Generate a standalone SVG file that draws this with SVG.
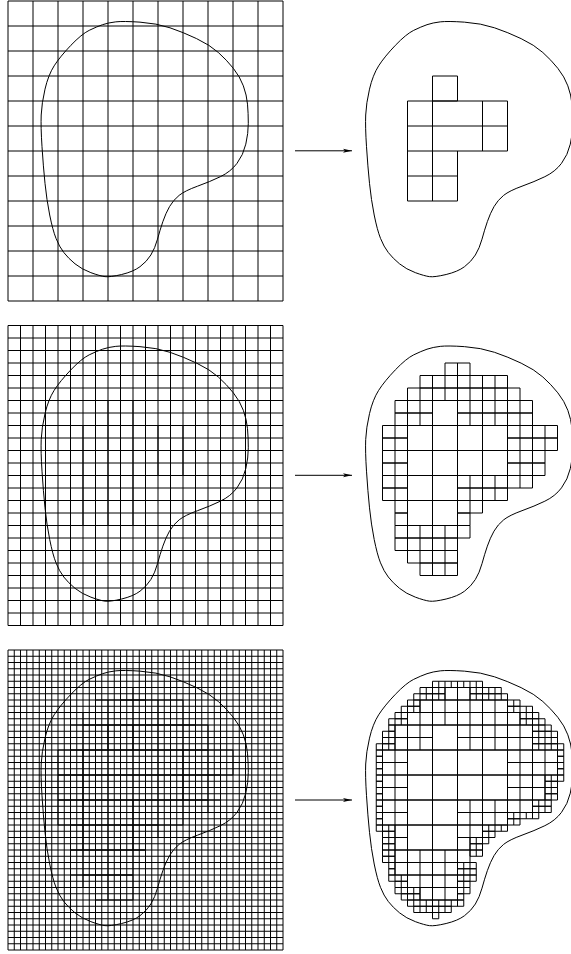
<svg xmlns="http://www.w3.org/2000/svg" width="571" height="954" viewBox="0 0 571 954">
<style>
svg{background:#fff}
path,use,line{fill:none;stroke:#000;stroke-width:1}
.u{vector-effect:non-scaling-stroke}
.b{stroke-width:1}
.a{stroke-width:1;marker-end:url(#ah)}
#ah path{fill:#000;stroke:none}
</style>
<defs>
<marker id="ah" markerUnits="userSpaceOnUse" markerWidth="10" markerHeight="6" refX="9" refY="3" orient="auto" viewBox="0 0 10 6"><path d="M0 1L9 3L0 5L2 3z"/></marker>
<path id="blob" d="M115.8 21.85Q123.3 21 140 22.15Q156.7 23.3 170 27.8Q183.3 32.3 196.65 38.65Q210 45 218.35 52.5Q226.7 60 233.35 68.35Q240 76.7 243.35 85.85Q246.7 95 247.5 104.15Q248.3 113.3 248.3 123.3Q248.3 133.3 245.8 144.15Q243.3 155 237 163.35Q230.7 171.7 220.35 176.7Q210 181.7 197.5 186.2Q185 190.7 179.15 195.35Q173.3 200 169.5 206.65Q165.7 213.3 162.85 221.65Q160 230 157.5 239.15Q155 248.3 150.85 255Q146.7 261.7 140 266.7Q133.3 271.7 121.65 274.5Q110 277.3 105 276.65Q100 276 90.85 272.65Q81.7 269.3 75 263.8Q68.3 258.3 63.8 252.5Q59.3 246.7 56 238.35Q52.7 230 49.7 215Q46.7 200 45 183.35Q43.3 166.7 42 146.7Q40.7 126.7 41.2 115Q41.7 103.3 45 89.15Q48.3 75 54.15 65.85Q60 56.7 70.85 45.35Q81.7 34 89.2 30.35Q96.7 26.7 102.5 24.7Q108.3 22.7 115.8 21.85z"/>
<path id="s1" class="u" d="M0 0h1v1h-1z"/>
<path id="s2" class="u" d="M0 0h2v1h-2zM1 0v1"/>
<path id="s3" class="u" d="M0 0h3v1h-3zM1 0v1M2 0v1"/>
<path id="s4" class="u" d="M0 0h4v1h-4zM1 0v1M2 0v1M3 0v1"/>
<path id="s5" class="u" d="M0 0h5v1h-5zM1 0v1M2 0v1M3 0v1M4 0v1"/>
<path id="s6" class="u" d="M0 0h6v1h-6zM1 0v1M2 0v1M3 0v1M4 0v1M5 0v1"/>
<path id="s7" class="u" d="M0 0h7v1h-7zM1 0v1M2 0v1M3 0v1M4 0v1M5 0v1M6 0v1"/>
<path id="s8" class="u" d="M0 0h8v1h-8zM1 0v1M2 0v1M3 0v1M4 0v1M5 0v1M6 0v1M7 0v1"/>
<path id="s9" class="u" d="M0 0h9v1h-9zM1 0v1M2 0v1M3 0v1M4 0v1M5 0v1M6 0v1M7 0v1M8 0v1"/>
<path id="grid11" class="u" d="M0 0v12M1 0v12M2 0v12M3 0v12M4 0v12M5 0v12M6 0v12M7 0v12M8 0v12M9 0v12M10 0v12M11 0v12M0 0h11M0 1h11M0 2h11M0 3h11M0 4h11M0 5h11M0 6h11M0 7h11M0 8h11M0 9h11M0 10h11M0 11h11M0 12h11"/>
<g id="big" transform="scale(25)">
<use href="#s1" x="4" y="3"/><use href="#s4" x="3" y="4"/><use href="#s4" x="3" y="5"/><use href="#s2" x="3" y="6"/><use href="#s2" x="3" y="7"/>
</g>
<g id="medium" transform="scale(12.5)">
<use href="#s2" x="9" y="3"/><use href="#s7" x="7" y="4"/><use href="#s9" x="6" y="5"/>
<use href="#s3" x="5" y="6"/><use href="#s6" x="10" y="6"/><use href="#s3" x="5" y="7"/><use href="#s6" x="10" y="7"/>
<use href="#s2" x="4" y="8"/><use href="#s4" x="14" y="8"/><use href="#s2" x="4" y="9"/><use href="#s4" x="14" y="9"/>
<use href="#s2" x="4" y="10"/><use href="#s3" x="14" y="10"/><use href="#s2" x="4" y="11"/><use href="#s3" x="14" y="11"/>
<use href="#s2" x="4" y="12"/><use href="#s6" x="10" y="12"/><use href="#s2" x="4" y="13"/><use href="#s4" x="10" y="13"/>
<use href="#s1" x="5" y="14"/><use href="#s2" x="10" y="14"/><use href="#s1" x="5" y="15"/><use href="#s1" x="10" y="15"/>
<use href="#s6" x="5" y="16"/><use href="#s5" x="5" y="17"/><use href="#s4" x="6" y="18"/><use href="#s3" x="7" y="19"/>
</g>
<g id="small" transform="scale(6.25)">
<use href="#s8" x="16" y="5"/>
<use href="#s4" x="14" y="6"/><use href="#s5" x="22" y="6"/>
<use href="#s5" x="13" y="7"/><use href="#s6" x="22" y="7"/>
<use href="#s2" x="12" y="8"/><use href="#s2" x="28" y="8"/>
<use href="#s3" x="11" y="9"/><use href="#s4" x="28" y="9"/>
<use href="#s2" x="10" y="10"/><use href="#s3" x="30" y="10"/>
<use href="#s3" x="9" y="11"/><use href="#s4" x="30" y="11"/>
<use href="#s1" x="9" y="12"/><use href="#s3" x="32" y="12"/>
<use href="#s2" x="8" y="13"/><use href="#s4" x="32" y="13"/>
<use href="#s2" x="8" y="14"/><use href="#s4" x="32" y="14"/>
<use href="#s3" x="7" y="15"/><use href="#s5" x="32" y="15"/>
<use href="#s1" x="7" y="16"/><use href="#s1" x="36" y="16"/>
<use href="#s1" x="7" y="17"/><use href="#s1" x="36" y="17"/>
<use href="#s1" x="7" y="18"/><use href="#s1" x="36" y="18"/>
<use href="#s1" x="7" y="19"/><use href="#s1" x="36" y="19"/>
<use href="#s1" x="7" y="20"/><use href="#s3" x="34" y="20"/>
<use href="#s1" x="7" y="21"/><use href="#s2" x="34" y="21"/>
<use href="#s1" x="7" y="22"/><use href="#s2" x="34" y="22"/>
<use href="#s1" x="7" y="23"/><use href="#s2" x="34" y="23"/>
<use href="#s1" x="7" y="24"/><use href="#s3" x="32" y="24"/>
<use href="#s1" x="7" y="25"/><use href="#s3" x="32" y="25"/>
<use href="#s1" x="7" y="26"/><use href="#s5" x="28" y="26"/>
<use href="#s1" x="7" y="27"/><use href="#s2" x="28" y="27"/>
<use href="#s3" x="7" y="28"/><use href="#s4" x="24" y="28"/>
<use href="#s2" x="8" y="29"/><use href="#s2" x="24" y="29"/>
<use href="#s2" x="8" y="30"/><use href="#s3" x="22" y="30"/>
<use href="#s2" x="8" y="31"/><use href="#s2" x="22" y="31"/>
<use href="#s2" x="8" y="32"/><use href="#s2" x="22" y="32"/>
<use href="#s2" x="8" y="33"/>
<use href="#s1" x="9" y="34"/><use href="#s3" x="20" y="34"/>
<use href="#s1" x="9" y="35"/><use href="#s3" x="20" y="35"/>
<use href="#s3" x="9" y="36"/><use href="#s3" x="20" y="36"/>
<use href="#s2" x="10" y="37"/><use href="#s2" x="20" y="37"/>
<use href="#s4" x="10" y="38"/><use href="#s2" x="20" y="38"/>
<use href="#s3" x="11" y="39"/><use href="#s1" x="20" y="39"/>
<use href="#s9" x="12" y="40"/>
<use href="#s6" x="13" y="41"/>
<use href="#s1" x="16" y="42"/>
</g>
</defs>
<rect width="571" height="954" fill="#fff"/>
<g id="grid-coarse">
<use href="#grid11" transform="translate(8 1) scale(25)"/>
<use href="#blob"/>
</g>
<g id="result-coarse">
<use href="#blob" x="324.5"/>
<path transform="translate(332.5 1) scale(25)" class="u" d="M4 3h1v1h-1zM3 4h4v2h-4zM3 5h4M4 4v4M6 4v2M3 6v2h2v-2M3 7h2"/>
</g>
<g id="grid-medium">
<g transform="translate(8 325.5) scale(12.5)">
<path class="u" d="M0 0v24M1 0v24M2 0v24M3 0v24M4 0v24M5 0v24M6 0v24M7 0v24M8 0v24M9 0v24M10 0v24M11 0v24M12 0v24M13 0v24M14 0v24M15 0v24M16 0v24M17 0v24M18 0v24M19 0v24M20 0v24M21 0v24M22 0v24M0 0h22M0 1h22M0 2h22M0 3h22M0 4h22M0 5h22M0 6h22M0 7h22M0 8h22M0 9h22M0 10h22M0 11h22M0 12h22M0 13h22M0 14h22M0 15h22M0 16h22M0 17h22M0 18h22M0 19h22M0 20h22M0 21h22M0 22h22M0 23h22M0 24h22"/>
</g>
<use href="#big" x="8" y="325.5"/>
<use href="#blob" y="324.5"/>
</g>
<g id="result-medium">
<use href="#blob" x="324.5" y="324.5"/>
<use href="#big" x="332.5" y="325.5"/>
<use href="#medium" x="332.5" y="325.5"/>
</g>
<g id="grid-fine">
<g transform="translate(8 650) scale(6.25)">
<path class="u" d="M0 0v48M1 0v48M2 0v48M3 0v48M4 0v48M5 0v48M6 0v48M7 0v48M8 0v48M9 0v48M10 0v48M11 0v48M12 0v48M13 0v48M14 0v48M15 0v48M16 0v48M17 0v48M18 0v48M19 0v48M20 0v48M21 0v48M22 0v48M23 0v48M24 0v48M25 0v48M26 0v48M27 0v48M28 0v48M29 0v48M30 0v48M31 0v48M32 0v48M33 0v48M34 0v48M35 0v48M36 0v48M37 0v48M38 0v48M39 0v48M40 0v48M41 0v48M42 0v48M43 0v48M44 0v48"/>
<path class="u" d="M0 0h44M0 1h44M0 2h44M0 3h44M0 4h44M0 5h44M0 6h44M0 7h44M0 8h44M0 9h44M0 10h44M0 11h44M0 12h44M0 13h44M0 14h44M0 15h44M0 16h44M0 17h44M0 18h44M0 19h44M0 20h44M0 21h44M0 22h44M0 23h44M0 24h44M0 25h44M0 26h44M0 27h44M0 28h44M0 29h44M0 30h44M0 31h44M0 32h44M0 33h44M0 34h44M0 35h44M0 36h44M0 37h44M0 38h44M0 39h44M0 40h44M0 41h44M0 42h44M0 43h44M0 44h44M0 45h44M0 46h44M0 47h44M0 48h44"/>
</g>
<use href="#big" x="8" y="650"/>
<use href="#medium" x="8" y="650"/>
<use href="#blob" y="649"/>
</g>
<g id="result-fine">
<use href="#blob" x="324.5" y="649"/>
<use href="#big" x="332.5" y="650"/>
<use href="#medium" x="332.5" y="650"/>
<use href="#small" x="332.5" y="650"/>
</g>
<g id="connectors">
<line class="a" x1="295" y1="150.8" x2="352" y2="150.8"/>
<line class="a" x1="295" y1="475.3" x2="352" y2="475.3"/>
<line class="a" x1="295" y1="800" x2="352" y2="800"/>
</g>
</svg>
